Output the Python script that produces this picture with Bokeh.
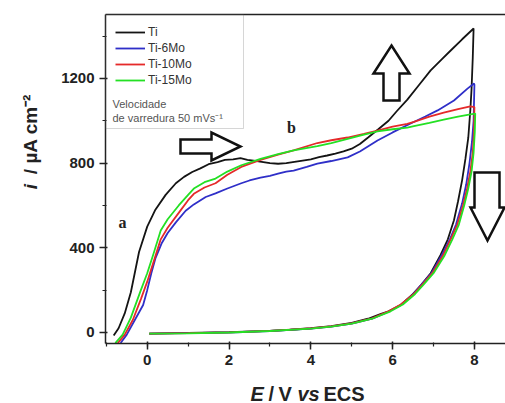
import numpy as np
from bokeh.plotting import figure
from bokeh.layouts import row, column
from bokeh.models import (Range1d, LinearAxis, SingleIntervalTicker, FixedTicker,
                          Legend, LegendItem, Label, BoxAnnotation)
from bokeh.embed import file_html
from bokeh.resources import INLINE

# ---------------- data ----------------
series_names = ["Ti", "Ti-6Mo", "Ti-10Mo", "Ti-15Mo"]
series_colors = ["#141414", "#2f2fc8", "#e52a2a", "#24e024"]

# forward scan then reverse scan (E in V vs ECS, i in uA cm^-2)
ti_E = [-0.82, -0.7, -0.55, -0.4, -0.2, 0.0, 0.2, 0.45, 0.7, 0.9, 1.1, 1.3, 1.5, 1.72, 1.9,
        2.1, 2.28, 2.45, 2.6, 2.8, 3.0, 3.2, 3.4, 3.6, 3.8, 4.0, 4.2, 4.4, 4.6, 4.8, 5.0,
        5.2, 5.4, 5.65, 5.9, 6.1, 6.36, 6.65, 6.93, 7.2, 7.42, 7.7, 7.98,
        7.96, 7.93, 7.9, 7.85, 7.78, 7.7, 7.6, 7.5, 7.35, 7.17, 6.93, 6.7, 6.5, 6.2, 5.9,
        5.7, 5.4, 5.0, 4.5, 4.0, 3.5, 3.0, 2.0, 1.0, 0.05]
ti_i = [-14, 20, 90, 190, 380, 500, 580, 650, 705, 735, 758, 775, 795, 805, 815,
        818, 824, 815, 812, 806, 800, 797, 800, 806, 812, 818, 828, 836, 845, 855, 868,
        890, 921, 960, 1000, 1045, 1100, 1170, 1238, 1290, 1332, 1385, 1436,
        1300, 1150, 1050, 920, 820, 720, 620, 530, 440, 365, 280, 225, 182, 130, 100,
        87, 65, 45, 30, 20, 13, 8, 2, -2, -5]

ti6_E = [-0.65, -0.5, -0.3, -0.1, 0.0, 0.1, 0.2, 0.35, 0.5, 0.7, 0.94, 1.14, 1.43, 1.67,
         1.96, 2.3, 2.5, 2.77, 3.0, 3.2, 3.4, 3.58, 3.9, 4.16, 4.5, 4.9, 5.2, 5.63, 6.0,
         6.44, 6.8, 7.1, 7.5, 7.83, 7.99,
         8.0, 7.98, 7.94, 7.88, 7.8, 7.7, 7.55, 7.4, 7.2, 6.95, 6.7, 6.5, 6.2, 5.9, 5.5,
         5.0, 4.5, 4.0, 3.0, 2.0, 1.0, 0.05]
ti6_i = [-50, -10, 60, 130, 200, 280, 350, 420, 470, 520, 575, 605, 640, 657,
         680, 705, 718, 732, 740, 750, 760, 765, 782, 798, 810, 827, 855, 907, 945,
         987, 1020, 1049, 1096, 1152, 1176,
         1170, 1000, 900, 800, 700, 610, 510, 440, 365, 280, 225, 180, 130, 98, 65,
         42, 28, 18, 7, 0, -3, -5]

ti10_E = [-0.72, -0.55, -0.35, -0.15, 0.0, 0.15, 0.33, 0.5, 0.77, 1.0, 1.14, 1.4, 1.67,
          1.96, 2.3, 2.77, 3.2, 3.58, 4.16, 4.5, 4.9, 5.3, 5.63, 6.0, 6.36, 6.52, 6.9,
          7.25, 7.6, 7.9, 8.0,
          7.99, 7.96, 7.9, 7.82, 7.72, 7.58, 7.42, 7.22, 6.97, 6.72, 6.52, 6.2, 5.9, 5.5,
          5.0, 4.5, 4.0, 3.0, 2.0, 1.0, 0.05]
ti10_i = [-50, -10, 60, 160, 240, 330, 440, 495, 565, 625, 655, 685, 705,
          745, 782, 815, 840, 860, 895, 908, 921, 938, 954, 972, 985, 995, 1020,
          1038, 1055, 1068, 1065,
          950, 850, 760, 680, 600, 510, 440, 360, 280, 225, 182, 132, 100, 67,
          43, 29, 19, 8, 1, -3, -5]

ti15_E = [-0.78, -0.6, -0.4, -0.16, 0.0, 0.15, 0.33, 0.5, 0.77, 1.0, 1.14, 1.4, 1.67,
          1.96, 2.3, 2.77, 3.2, 3.58, 4.16, 4.5, 4.9, 5.3, 5.63, 6.0, 6.36, 6.52, 6.9,
          7.25, 7.6, 7.9, 8.02,
          8.01, 7.98, 7.93, 7.85, 7.75, 7.62, 7.46, 7.26, 7.0, 6.75, 6.55, 6.25, 5.95, 5.5,
          5.0, 4.5, 4.0, 3.0, 2.0, 1.0, 0.05]
ti15_i = [-50, -10, 70, 198, 280, 370, 482, 535, 600, 650, 680, 710, 727,
          760, 790, 820, 842, 860, 880, 895, 915, 935, 950, 960, 968, 975, 990,
          1005, 1020, 1030, 1034,
          950, 850, 760, 680, 600, 510, 440, 360, 280, 225, 182, 132, 100, 65,
          42, 28, 18, 7, 0, -4, -5]

series_E = [ti_E, ti6_E, ti10_E, ti15_E]
series_i = [ti_i, ti6_i, ti10_i, ti15_i]

x_ticks_interval = 2
y_ticks_interval = 400

# ---------------- layout (canvas pixels of the reference) ----------------
X0, X1 = -1.02, 8.76
Y0, Y1 = -52, 1502
W, H = 505, 403
LW = 50            # width of the strip holding the y title
BH = 30            # height of the strip holding the x title
MH = H - BH        # height of the main plot
FL, FR, FT, FB = 105, 505, 14, 343


def px2x(px):
    return X0 + (px - FL) / (FR - FL) * (X1 - X0)


def py2y(py):
    return Y0 + (FB - py) / (FB - FT) * (Y1 - Y0)


FONT = "Liberation Sans"

p = figure(width=W - LW, height=MH, x_range=Range1d(X0, X1), y_range=Range1d(Y0, Y1),
           output_backend="svg", toolbar_location=None,
           x_axis_type=None, y_axis_type=None,
           min_border_left=FL - LW, min_border_right=W - FR,
           min_border_top=FT, min_border_bottom=MH - FB)
p.outline_line_color = None
p.background_fill_color = "white"
p.border_fill_color = "white"


def style_axis(ax):
    ax.axis_line_color = "#222222"
    ax.axis_line_width = 1.5
    ax.major_tick_line_color = "#222222"
    ax.minor_tick_line_color = "#222222"
    ax.major_tick_line_width = 1.5
    ax.minor_tick_line_width = 1.2
    ax.major_tick_out = 6
    ax.major_tick_in = 2
    ax.minor_tick_out = 3
    ax.minor_tick_in = 1
    ax.major_label_text_font = FONT
    ax.major_label_text_font_size = "15px"
    ax.major_label_text_font_style = "bold"
    ax.major_label_text_color = "#222222"


xax = LinearAxis(ticker=SingleIntervalTicker(interval=x_ticks_interval, num_minor_ticks=2))
style_axis(xax)
xax.major_label_standoff = 5
p.add_layout(xax, "below")

yax = LinearAxis(ticker=SingleIntervalTicker(interval=y_ticks_interval, num_minor_ticks=2))
style_axis(yax)
yax.major_label_standoff = 5
p.add_layout(yax, "left")

top = LinearAxis(ticker=FixedTicker(ticks=[]))
top.axis_line_color = "#222222"
top.axis_line_width = 1.5
top.major_tick_out = 0
top.major_tick_in = 0
top.minor_tick_out = 0
top.minor_tick_in = 0
top.major_label_text_font_size = "0px"
p.add_layout(top, "above")

# ---------------- curves ----------------
renderers = []
for name, col, E, I in zip(series_names, series_colors, series_E, series_i):
    r = p.line(E, I, line_color=col, line_width=1.8)
    renderers.append(r)

# legend box (includes scan-rate note)
p.add_layout(BoxAnnotation(left=px2x(FL), right=px2x(243), top=py2y(FT), bottom=py2y(128),
                           fill_alpha=0, line_color="#777777", line_width=1))

legend = Legend(items=[LegendItem(label=n, renderers=[r]) for n, r in zip(series_names, renderers)],
                location="top_left", margin=10, padding=2, spacing=0,
                glyph_width=30, glyph_height=16, label_height=16, label_standoff=3,
                label_text_font=FONT, label_text_font_size="12px", label_text_color="#333333",
                border_line_color=None, background_fill_alpha=0)
p.add_layout(legend)

for txt, py in [("Velocidade", 103), ("de varredura 50 mVs\u207b\u00b9", 117)]:
    p.add_layout(Label(x=px2x(112), y=py2y(py), text=txt, text_baseline="middle",
                       text_font=FONT, text_font_size="11px", text_color="#555555"))

# curve region labels
for txt, px, py in [("a", 122, 222), ("b", 291, 127)]:
    p.add_layout(Label(x=px2x(px), y=py2y(py), text=txt, text_align="center",
                       text_baseline="middle", text_font="Liberation Serif",
                       text_font_size="16px", text_font_style="bold", text_color="#222222"))

# ---------------- hollow arrows (pixel geometry -> data) ----------------
arrow_right = [(180, 139), (211, 139), (211, 132), (240, 146), (211, 160), (211, 153), (180, 153)]
arrow_up = [(391, 45), (409, 73), (399, 73), (399, 100), (383, 100), (383, 73), (373, 73)]
arrow_down = [(474, 172), (499, 172), (499, 207), (504, 207), (487, 240), (470, 207), (474, 207)]
for shape in (arrow_right, arrow_up, arrow_down):
    p.patch([px2x(a) for a, b in shape], [py2y(b) for a, b in shape],
            fill_color="white", line_color="#111111", line_width=2.5, line_join="miter")


def strip(w, h):
    f = figure(width=w, height=h, x_range=Range1d(0, w), y_range=Range1d(0, h),
               output_backend="svg", toolbar_location=None,
               x_axis_type=None, y_axis_type=None,
               min_border_left=0, min_border_right=0, min_border_top=0, min_border_bottom=0)
    f.outline_line_color = None
    f.background_fill_color = "white"
    f.border_fill_color = "white"
    f.grid.visible = False
    return f


# ---------------- y title strip (mixed italic) ----------------
ys = strip(LW, MH)
ys.add_layout(Label(x=30, y=MH - 198, text="i", angle=np.pi / 2, text_align="left",
                    text_baseline="middle", text_font=FONT, text_font_size="19px",
                    text_font_style="bold italic", text_color="#222222"))
ys.add_layout(Label(x=30, y=MH - 181, text="/ \u00b5A cm\u207b\u00b2", angle=np.pi / 2,
                    text_align="left", text_baseline="middle", text_font=FONT,
                    text_font_size="19px", text_font_style="bold", text_color="#222222"))

# ---------------- x title strip (mixed italic) ----------------
xs = strip(W, BH)
for txt, px, sty in [("E", 250, "bold italic"), ("/", 268, "bold"), ("V", 278, "bold"),
                     ("vs", 297, "bold italic"), ("ECS", 323, "bold")]:
    xs.add_layout(Label(x=px, y=H - 393, text=txt, text_align="left",
                        text_baseline="middle", text_font=FONT, text_font_size="20px",
                        text_font_style=sty, text_color="#222222"))

layout = column(row(ys, p, spacing=0), xs, spacing=0)
open("out.html", "w").write(file_html(layout, INLINE))
